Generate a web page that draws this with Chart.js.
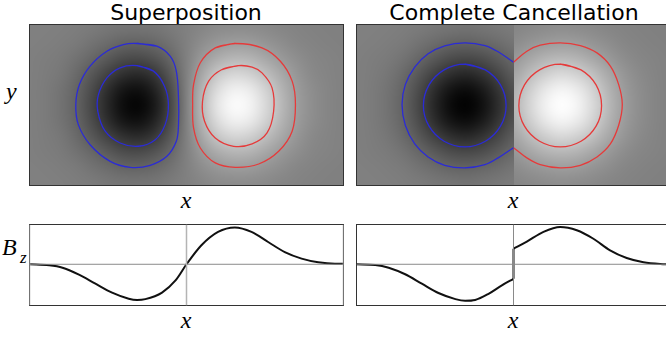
<!DOCTYPE html>
<html>
<head>
<meta charset="utf-8">
<script src="https://cdn.jsdelivr.net/npm/chart.js@4.4.1/dist/chart.umd.min.js"></script>
<style>
    body { margin: 0; width: 666px; height: 340px; overflow: hidden; background: #fff; position: relative; }
    canvas { position: absolute; }
    .title { position: absolute; top: 2px; font: 22px 'DejaVu Sans', sans-serif; line-height: 22px; color: #000; white-space: nowrap; transform: translateX(-50%); }
    .math { position: absolute; font: italic 24px 'Liberation Serif', serif; line-height: 24px; color: #000; white-space: nowrap; }
    .sub { position: absolute; font: italic 17px 'Liberation Serif', serif; line-height: 17px; color: #000; }
    .cx { transform: translateX(-50%); }
</style>
</head>
<body>
<div class="title" style="left:186px">Superposition</div>
<div class="title" style="left:514px">Complete Cancellation</div>
<div class="math" style="left:6px;top:79px">y</div>
<div class="math cx" style="left:186px;top:188px">x</div>
<div class="math cx" style="left:513px;top:188px">x</div>
<div class="math" style="left:2px;top:235px">B</div>
<div class="sub" style="left:20px;top:249px">z</div>
<div class="math cx" style="left:186px;top:308px">x</div>
<div class="math cx" style="left:513px;top:308px">x</div>

<canvas id="heatSuper" width="321" height="168" style="left:26px;top:21px"></canvas>
<canvas id="heatCancel" width="321" height="168" style="left:353px;top:21px"></canvas>
<canvas id="bzSuper" width="321" height="88" style="left:26px;top:221px"></canvas>
<canvas id="bzCancel" width="321" height="88" style="left:353px;top:221px"></canvas>

<script>
// ---- field maps (normalised B_z, -1 = black, +1 = white) ----
const heatRows = [0.5, 0.4, 0.3, 0.2, 0.1, 0, -0.1, -0.2, -0.3, -0.4, -0.5];
const superCols = [-1, -0.9, -0.8, -0.7, -0.6, -0.5, -0.4, -0.3, -0.2, -0.1, 0, 0.1, 0.2, 0.3, 0.4, 0.5, 0.6, 0.7, 0.8, 0.9, 1];
const superGrid = [
    [0, 0, -0.01, -0.02, -0.04, -0.07, -0.09, -0.09, -0.08, -0.04, 0, 0.04, 0.08, 0.09, 0.09, 0.07, 0.04, 0.02, 0.01, 0, 0],
    [0, -0.01, -0.02, -0.05, -0.10, -0.16, -0.21, -0.22, -0.18, -0.10, 0, 0.10, 0.18, 0.22, 0.21, 0.16, 0.10, 0.05, 0.02, 0.01, 0],
    [-0.01, -0.02, -0.05, -0.11, -0.20, -0.31, -0.40, -0.42, -0.35, -0.20, 0, 0.20, 0.35, 0.42, 0.40, 0.31, 0.20, 0.11, 0.05, 0.02, 0.01],
    [-0.01, -0.03, -0.07, -0.17, -0.32, -0.49, -0.63, -0.67, -0.56, -0.31, 0, 0.31, 0.56, 0.67, 0.63, 0.49, 0.32, 0.17, 0.07, 0.03, 0.01],
    [-0.01, -0.04, -0.10, -0.22, -0.42, -0.65, -0.84, -0.88, -0.73, -0.41, 0, 0.41, 0.73, 0.88, 0.84, 0.65, 0.42, 0.22, 0.10, 0.04, 0.01],
    [-0.01, -0.04, -0.11, -0.24, -0.46, -0.71, -0.92, -0.97, -0.81, -0.45, 0, 0.45, 0.81, 0.97, 0.92, 0.71, 0.46, 0.24, 0.11, 0.04, 0.01],
    [-0.01, -0.04, -0.10, -0.22, -0.42, -0.65, -0.84, -0.88, -0.73, -0.41, 0, 0.41, 0.73, 0.88, 0.84, 0.65, 0.42, 0.22, 0.10, 0.04, 0.01],
    [-0.01, -0.03, -0.07, -0.17, -0.32, -0.49, -0.63, -0.67, -0.56, -0.31, 0, 0.31, 0.56, 0.67, 0.63, 0.49, 0.32, 0.17, 0.07, 0.03, 0.01],
    [-0.01, -0.02, -0.05, -0.11, -0.20, -0.31, -0.40, -0.42, -0.35, -0.20, 0, 0.20, 0.35, 0.42, 0.40, 0.31, 0.20, 0.11, 0.05, 0.02, 0.01],
    [0, -0.01, -0.02, -0.05, -0.10, -0.16, -0.21, -0.22, -0.18, -0.10, 0, 0.10, 0.18, 0.22, 0.21, 0.16, 0.10, 0.05, 0.02, 0.01, 0],
    [0, 0, -0.01, -0.02, -0.04, -0.07, -0.09, -0.09, -0.08, -0.04, 0, 0.04, 0.08, 0.09, 0.09, 0.07, 0.04, 0.02, 0.01, 0, 0]
];
const cancelNegCols = [-1, -0.9, -0.8, -0.7, -0.6, -0.5, -0.4, -0.3, -0.2, -0.1, 0];
const cancelNegGrid = [
    [0, 0, -0.01, -0.02, -0.04, -0.07, -0.09, -0.10, -0.09, -0.06, -0.04],
    [0, -0.01, -0.02, -0.05, -0.10, -0.16, -0.21, -0.23, -0.20, -0.15, -0.09],
    [-0.01, -0.02, -0.05, -0.10, -0.20, -0.31, -0.40, -0.43, -0.39, -0.29, -0.18],
    [-0.01, -0.03, -0.08, -0.17, -0.32, -0.50, -0.64, -0.69, -0.61, -0.46, -0.28],
    [-0.01, -0.04, -0.10, -0.22, -0.42, -0.66, -0.85, -0.91, -0.81, -0.60, -0.37],
    [-0.01, -0.04, -0.11, -0.24, -0.46, -0.72, -0.93, -1.00, -0.89, -0.66, -0.41],
    [-0.01, -0.04, -0.10, -0.22, -0.42, -0.66, -0.85, -0.91, -0.81, -0.60, -0.37],
    [-0.01, -0.03, -0.08, -0.17, -0.32, -0.50, -0.64, -0.69, -0.61, -0.46, -0.28],
    [-0.01, -0.02, -0.05, -0.10, -0.20, -0.31, -0.40, -0.43, -0.39, -0.29, -0.18],
    [0, -0.01, -0.02, -0.05, -0.10, -0.16, -0.21, -0.23, -0.20, -0.15, -0.09],
    [0, 0, -0.01, -0.02, -0.04, -0.07, -0.09, -0.10, -0.09, -0.06, -0.04]
];
const cancelPosCols = [0, 0.1, 0.2, 0.3, 0.4, 0.5, 0.6, 0.7, 0.8, 0.9, 1];
const cancelPosGrid = [
    [0.04, 0.06, 0.09, 0.10, 0.09, 0.07, 0.04, 0.02, 0.01, 0, 0],
    [0.09, 0.15, 0.20, 0.23, 0.21, 0.16, 0.10, 0.05, 0.02, 0.01, 0],
    [0.18, 0.29, 0.39, 0.43, 0.40, 0.31, 0.20, 0.10, 0.05, 0.02, 0.01],
    [0.28, 0.46, 0.61, 0.69, 0.64, 0.50, 0.32, 0.17, 0.08, 0.03, 0.01],
    [0.37, 0.60, 0.81, 0.91, 0.85, 0.66, 0.42, 0.22, 0.10, 0.04, 0.01],
    [0.41, 0.66, 0.89, 1.00, 0.93, 0.72, 0.46, 0.24, 0.11, 0.04, 0.01],
    [0.37, 0.60, 0.81, 0.91, 0.85, 0.66, 0.42, 0.22, 0.10, 0.04, 0.01],
    [0.28, 0.46, 0.61, 0.69, 0.64, 0.50, 0.32, 0.17, 0.08, 0.03, 0.01],
    [0.18, 0.29, 0.39, 0.43, 0.40, 0.31, 0.20, 0.10, 0.05, 0.02, 0.01],
    [0.09, 0.15, 0.20, 0.23, 0.21, 0.16, 0.10, 0.05, 0.02, 0.01, 0],
    [0.04, 0.06, 0.09, 0.10, 0.09, 0.07, 0.04, 0.02, 0.01, 0, 0]
];

// ---- contour lines [x, y] ----
const superBlueOuter = [[-0.316, 0.392], [-0.189, 0.375], [-0.104, 0.311], [-0.065, 0.216], [-0.051, 0.045], [-0.051, -0.125], [-0.065, -0.231], [-0.125, -0.327], [-0.231, -0.384], [-0.359, -0.397], [-0.486, -0.359], [-0.614, -0.253], [-0.689, -0.125], [-0.705, 0.003], [-0.682, 0.130], [-0.614, 0.248], [-0.507, 0.343], [-0.402, 0.385]];
const superBlueInner = [[-0.316, 0.251], [-0.210, 0.216], [-0.140, 0.120], [-0.115, 0.003], [-0.136, -0.125], [-0.199, -0.221], [-0.306, -0.263], [-0.423, -0.242], [-0.518, -0.167], [-0.565, -0.040], [-0.561, 0.066], [-0.507, 0.173], [-0.423, 0.237]];
const superRedOuter = [[0.311, 0.392], [0.183, 0.364], [0.088, 0.269], [0.045, 0.130], [0.039, 0.003], [0.045, -0.146], [0.088, -0.274], [0.183, -0.369], [0.311, -0.397], [0.460, -0.376], [0.587, -0.295], [0.673, -0.167], [0.694, 0.003], [0.673, 0.152], [0.598, 0.279], [0.481, 0.364]];
const superRedInner = [[0.332, 0.251], [0.226, 0.226], [0.141, 0.152], [0.102, 0.024], [0.115, -0.103], [0.183, -0.210], [0.300, -0.263], [0.418, -0.248], [0.513, -0.178], [0.555, -0.040], [0.545, 0.109], [0.481, 0.205], [0.418, 0.241]];

const cancelBlueOuter = [[0, 0.272], [-0.098, 0.339], [-0.182, 0.379], [-0.310, 0.396], [-0.438, 0.377], [-0.544, 0.326], [-0.629, 0.241], [-0.689, 0.130], [-0.710, 0.003], [-0.689, -0.129], [-0.629, -0.248], [-0.544, -0.331], [-0.438, -0.384], [-0.310, -0.401], [-0.182, -0.380], [-0.098, -0.337], [0, -0.272]];
const cancelBlueInner = [[-0.310, 0.260], [-0.179, 0.224], [-0.083, 0.128], [-0.047, -0.004], [-0.083, -0.135], [-0.179, -0.231], [-0.310, -0.267], [-0.442, -0.231], [-0.538, -0.135], [-0.574, -0.004], [-0.538, 0.128], [-0.442, 0.224]];
const cancelRedOuter = [[0, 0.272], [0.085, 0.343], [0.170, 0.381], [0.298, 0.396], [0.426, 0.379], [0.532, 0.332], [0.617, 0.248], [0.670, 0.130], [0.693, 0.003], [0.670, -0.129], [0.617, -0.248], [0.532, -0.331], [0.426, -0.384], [0.298, -0.401], [0.170, -0.380], [0.085, -0.337], [0, -0.272]];
const cancelRedInner = [[0.298, 0.260], [0.430, 0.224], [0.526, 0.128], [0.561, -0.004], [0.526, -0.135], [0.430, -0.231], [0.298, -0.267], [0.166, -0.231], [0.070, -0.135], [0.034, -0.004], [0.070, 0.128], [0.166, 0.224]];

// ---- B_z profiles along y = 0 ----
const superBzX = [-1.0, -0.875, -0.79, -0.685, -0.58, -0.474, -0.368, -0.315, -0.262, -0.156, -0.07, 0.0, 0.095, 0.201, 0.308, 0.414, 0.52, 0.626, 0.733, 0.839, 0.945, 1.0];
const superBzY = [0.0, -0.025, -0.084, -0.257, -0.48, -0.70, -0.85, -0.88, -0.86, -0.70, -0.40, 0.0, 0.47, 0.80, 0.91, 0.80, 0.55, 0.30, 0.14, 0.05, 0.015, 0.015];
const cancelNegX = [-1.0, -0.88, -0.795, -0.69, -0.584, -0.478, -0.37, -0.308, -0.244, -0.159, -0.074, 0.0];
const cancelNegY = [0, -0.017, -0.084, -0.247, -0.48, -0.71, -0.86, -0.90, -0.88, -0.73, -0.52, -0.36];
const cancelPosX = [0.0, 0.085, 0.191, 0.297, 0.403, 0.509, 0.615, 0.721, 0.828, 0.934, 1.0];
const cancelPosY = [0.385, 0.56, 0.80, 0.92, 0.84, 0.63, 0.345, 0.155, 0.05, 0.007, 0];

// axis limits
const xLimits = [-1, 1];
const heatYLimits = [-0.513, 0.513];
const bzYLimits = [-1.018, 0.982];
const superGuidesX = [-1, 0, 1];
const cancelGuidesX = [0];

const BLUE = '#2b2bd6';
const RED = '#e63a3a';

function toPoints(pairs) {
    return pairs.map(([x, y]) => ({ x, y }));
}

function contour(pairs, color, closed) {
    const pts = closed ? pairs.concat(pairs.slice(0, 2)) : pairs;
    return {
        data: toPoints(pts),
        showLine: true,
        borderColor: color,
        borderWidth: 1.3,
        tension: 0.36,
        pointRadius: 0
    };
}

function profile(xs, ys) {
    return {
        data: xs.map((x, i) => ({ x, y: ys[i] })),
        showLine: true,
        borderColor: '#111',
        borderWidth: 2,
        cubicInterpolationMode: 'monotone',
        pointRadius: 0,
        borderJoinStyle: 'round'
    };
}

function segment(a, b, color, width) {
    return { data: [a, b], showLine: true, borderColor: color, borderWidth: width, pointRadius: 0 };
}

// draws smooth grey field maps behind the contours
function heatmapPlugin(parts) {
    return {
        id: 'heatmap',
        beforeDatasetsDraw(chart) {
            const { ctx, chartArea, scales } = chart;
            parts.forEach(part => {
                const { cols, rows, grid, clip } = part;
                const off = document.createElement('canvas');
                off.width = cols.length;
                off.height = rows.length;
                const octx = off.getContext('2d');
                const img = octx.createImageData(cols.length, rows.length);
                grid.forEach((row, i) => row.forEach((v, j) => {
                    const g = Math.round(128 + 127 * v);
                    const k = (i * cols.length + j) * 4;
                    img.data[k] = g;
                    img.data[k + 1] = g;
                    img.data[k + 2] = g;
                    img.data[k + 3] = 255;
                }));
                octx.putImageData(img, 0, 0);

                const hx = (cols[1] - cols[0]) / 2;
                const hy = (rows[0] - rows[1]) / 2;
                const left = scales.x.getPixelForValue(cols[0] - hx);
                const right = scales.x.getPixelForValue(cols[cols.length - 1] + hx);
                const top = scales.y.getPixelForValue(rows[0] + hy);
                const bottom = scales.y.getPixelForValue(rows[rows.length - 1] - hy);
                // snap the clip to whole pixels so the two halves meet without a seam
                const clipL = Math.round(Math.max(chartArea.left, scales.x.getPixelForValue(clip[0])));
                const clipR = Math.round(Math.min(chartArea.right, scales.x.getPixelForValue(clip[1])));

                ctx.save();
                ctx.beginPath();
                ctx.rect(clipL, Math.floor(chartArea.top), clipR - clipL, Math.ceil(chartArea.bottom) - Math.floor(chartArea.top));
                ctx.clip();
                ctx.imageSmoothingEnabled = true;
                ctx.imageSmoothingQuality = 'high';
                ctx.drawImage(off, left, top, right - left, bottom - top);
                ctx.restore();
            });
        }
    };
}

function framePlugin(color) {
    return {
        id: 'frame',
        beforeDatasetsDraw(chart) {
            const { ctx, chartArea: a } = chart;
            ctx.save();
            ctx.strokeStyle = color;
            ctx.lineWidth = 1;
            ctx.strokeRect(a.left, a.top, a.right - a.left, a.bottom - a.top);
            ctx.restore();
        }
    };
}

function baseOptions(yLimits) {
    return {
        responsive: false,
        animation: false,
        events: [],
        layout: { padding: 3.5 },
        plugins: { legend: { display: false }, tooltip: { enabled: false } },
        scales: {
            x: { type: 'linear', min: xLimits[0], max: xLimits[1], display: false },
            y: { type: 'linear', min: yLimits[0], max: yLimits[1], display: false }
        }
    };
}

function createHeatChart(id, parts, contours) {
    return new Chart(document.getElementById(id), {
        type: 'scatter',
        data: { datasets: contours },
        options: baseOptions(heatYLimits),
        plugins: [heatmapPlugin(parts), framePlugin('#333')]
    });
}

function createBzChart(id, guides, guideColor, guideWidth, curves) {
    const datasets = [];
    guides.forEach(gx => datasets.push(segment({ x: gx, y: bzYLimits[0] }, { x: gx, y: bzYLimits[1] }, guideColor, guideWidth)));
    datasets.push(segment({ x: xLimits[0], y: 0 }, { x: xLimits[1], y: 0 }, '#8a8a8a', 1));
    return new Chart(document.getElementById(id), {
        type: 'scatter',
        data: { datasets: datasets.concat(curves) },
        options: baseOptions(bzYLimits),
        plugins: [framePlugin('#333')]
    });
}

createHeatChart('heatSuper',
    [{ cols: superCols, rows: heatRows, grid: superGrid, clip: xLimits }],
    [
        contour(superBlueOuter, BLUE, true),
        contour(superBlueInner, BLUE, true),
        contour(superRedOuter, RED, true),
        contour(superRedInner, RED, true)
    ]);

createHeatChart('heatCancel',
    [
        { cols: cancelNegCols, rows: heatRows, grid: cancelNegGrid, clip: [xLimits[0], 0] },
        { cols: cancelPosCols, rows: heatRows, grid: cancelPosGrid, clip: [0, xLimits[1]] }
    ],
    [
        contour(cancelBlueOuter, BLUE, false),
        contour(cancelBlueInner, BLUE, true),
        contour(cancelRedOuter, RED, false),
        contour(cancelRedInner, RED, true)
    ]);

createBzChart('bzSuper', superGuidesX, '#b4b4b4', 1.5, [profile(superBzX, superBzY)]);

const last = cancelNegX.length - 1;
createBzChart('bzCancel', cancelGuidesX, '#8a8a8a', 1, [
    profile(cancelNegX, cancelNegY),
    segment({ x: cancelNegX[last], y: cancelNegY[last] }, { x: cancelPosX[0], y: cancelPosY[0] }, '#111', 2),
    profile(cancelPosX, cancelPosY)
]);
</script>
</body>
</html>
